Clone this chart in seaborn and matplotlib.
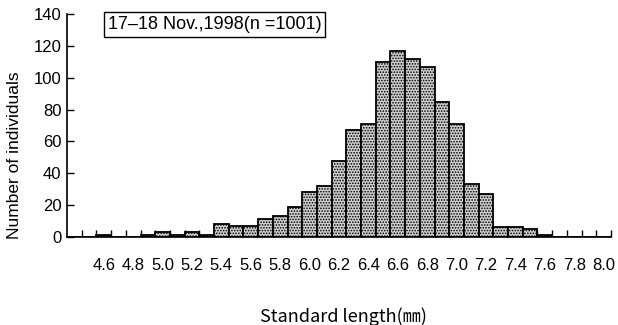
import matplotlib
matplotlib.use("Agg")
import matplotlib.pyplot as plt
import seaborn as sns
import pandas as pd
import numpy as np

# Data
categories = ["4.4", "4.5", "4.6", "4.7", "4.8", "4.9", "5.0", "5.1", "5.2", "5.3",
              "5.4", "5.5", "5.6", "5.7", "5.8", "5.9", "6.0", "6.1", "6.2", "6.3",
              "6.4", "6.5", "6.6", "6.7", "6.8", "6.9", "7.0", "7.1", "7.2", "7.3",
              "7.4", "7.5", "7.6", "7.7", "7.8", "7.9", "8.0"]
counts = [0, 0, 1, 0, 0, 1, 3, 1, 3, 1,
          8, 7, 7, 11, 13, 19, 28, 32, 48, 67,
          71, 110, 117, 112, 107, 85, 71, 33, 27, 6,
          6, 5, 1, 0, 0, 0, 0]
tick_labels = ["4.6", "4.8", "5.0", "5.2", "5.4", "5.6", "5.8", "6.0", "6.2",
               "6.4", "6.6", "6.8", "7.0", "7.2", "7.4", "7.6", "7.8", "8.0"]
y_ticks = [0, 20, 40, 60, 80, 100, 120, 140]
title_text = "17\u201318 Nov.,1998(n =1001)"

df = pd.DataFrame({"length": categories, "count": counts})

sns.set_theme(style="white")
plt.rcParams["font.family"] = ["Liberation Sans", "DejaVu Sans"]
plt.rcParams["hatch.linewidth"] = 0.8
plt.rcParams["text.color"] = "black"
plt.rcParams["xtick.color"] = "black"
plt.rcParams["ytick.color"] = "black"
plt.rcParams["xtick.labelcolor"] = "black"
plt.rcParams["ytick.labelcolor"] = "black"

W, H = 618, 325
fig = plt.figure(figsize=(W / 100, H / 100), dpi=100)
left, right, bottom, top = 67, 611, 237, 14
ax = fig.add_axes([left / W, 1 - bottom / H, (right - left) / W, (bottom - top) / H])

sns.barplot(data=df, x="length", y="count", order=categories, ax=ax,
            color="white", width=1.0, edgecolor="black", linewidth=1.3,
            saturation=1)
for p in ax.patches:
    p.set_hatch("......")
    p.set_facecolor("#d0d0d0")

ax.set_xlim(-0.5, len(categories) - 0.5)
ax.set_ylim(0, 140)

# tick labels every other category
pos = [categories.index(t) for t in tick_labels]
ax.set_xticks(pos)
ax.set_xticklabels(tick_labels, fontsize=12, color="black")
ax.set_xticks(np.arange(len(categories)) + 0.5, minor=True)
ax.tick_params(axis="x", which="major", length=0, pad=15, labelcolor="black")
ax.tick_params(axis="x", which="minor", direction="in", length=5, width=1, color="black", bottom=True)

ax.set_yticks(y_ticks)
ax.set_yticklabels([str(v) for v in y_ticks], fontsize=12, color="black")
ax.tick_params(axis="y", direction="in", length=5, width=1, color="black", left=True, pad=4,
               labelcolor="black")

for s in ["top", "right"]:
    ax.spines[s].set_visible(False)
for s in ["left", "bottom"]:
    ax.spines[s].set_color("black")
    ax.spines[s].set_linewidth(1.2)

ax.set_xlabel("")
ax.set_ylabel("")

fig.text(15 / W, 1 - 155 / H, "Number of individuals", rotation=90,
         ha="center", va="center", fontsize=12.5, color="black")
fig.text(343 / W, 1 - 317 / H, "Standard length(\u339c)",
         ha="center", va="center", fontsize=13, color="black",
         family=["Noto Sans CJK JP", "DejaVu Sans"])
fig.text(108 / W, 1 - 24.5 / H, title_text, ha="left", va="center", fontsize=13, color="black",
         bbox=dict(boxstyle="square,pad=0.2", facecolor="white", edgecolor="black", linewidth=1))

fig.savefig("out.png", dpi=100)
